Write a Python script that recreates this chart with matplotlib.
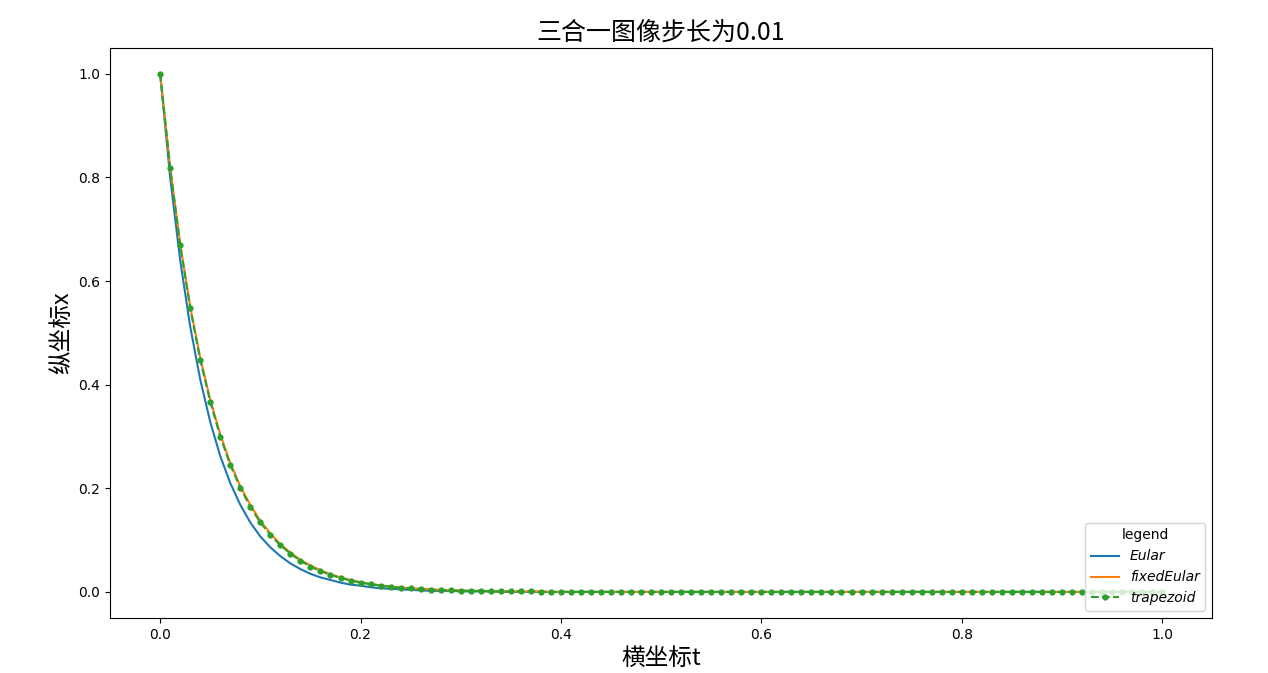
import numpy as np
import matplotlib.pyplot as plt

plt.rcParams['font.family'] = ['DejaVu Sans']
plt.rcParams['axes.unicode_minus'] = False
cjk = ['Noto Sans CJK SC', 'DejaVu Sans']

# time axis, step 0.01
t = np.round(np.arange(0, 101) * 0.01, 2)

# values
eular = [1.000, 0.800, 0.640, 0.512, 0.410, 0.328, 0.262, 0.210, 0.168, 0.134,
         0.107, 0.086, 0.069, 0.055, 0.044, 0.035, 0.028, 0.023, 0.018, 0.014,
         0.012, 0.009, 0.007, 0.006, 0.005, 0.004, 0.003, 0.002, 0.002, 0.002,
         0.001, 0.001, 0.001, 0.001, 0.000, 0.000, 0.000, 0.000, 0.000, 0.000,
         0.000, 0.000, 0.000, 0.000, 0.000, 0.000, 0.000, 0.000, 0.000, 0.000,
         0.000, 0.000, 0.000, 0.000, 0.000, 0.000, 0.000, 0.000, 0.000, 0.000,
         0.000, 0.000, 0.000, 0.000, 0.000, 0.000, 0.000, 0.000, 0.000, 0.000,
         0.000, 0.000, 0.000, 0.000, 0.000, 0.000, 0.000, 0.000, 0.000, 0.000,
         0.000, 0.000, 0.000, 0.000, 0.000, 0.000, 0.000, 0.000, 0.000, 0.000,
         0.000, 0.000, 0.000, 0.000, 0.000, 0.000, 0.000, 0.000, 0.000, 0.000,
         0.000]
fixed_eular = [1.000, 0.820, 0.672, 0.551, 0.452, 0.371, 0.304, 0.249, 0.204, 0.168,
               0.137, 0.113, 0.092, 0.076, 0.062, 0.051, 0.042, 0.034, 0.028, 0.023,
               0.019, 0.015, 0.013, 0.010, 0.009, 0.007, 0.006, 0.005, 0.004, 0.003,
               0.003, 0.002, 0.002, 0.001, 0.001, 0.001, 0.001, 0.001, 0.001, 0.000,
               0.000, 0.000, 0.000, 0.000, 0.000, 0.000, 0.000, 0.000, 0.000, 0.000,
               0.000, 0.000, 0.000, 0.000, 0.000, 0.000, 0.000, 0.000, 0.000, 0.000,
               0.000, 0.000, 0.000, 0.000, 0.000, 0.000, 0.000, 0.000, 0.000, 0.000,
               0.000, 0.000, 0.000, 0.000, 0.000, 0.000, 0.000, 0.000, 0.000, 0.000,
               0.000, 0.000, 0.000, 0.000, 0.000, 0.000, 0.000, 0.000, 0.000, 0.000,
               0.000, 0.000, 0.000, 0.000, 0.000, 0.000, 0.000, 0.000, 0.000, 0.000,
               0.000]
trapezoid = [1.000, 0.818, 0.669, 0.548, 0.448, 0.367, 0.300, 0.245, 0.201, 0.164,
             0.134, 0.110, 0.090, 0.074, 0.060, 0.049, 0.040, 0.033, 0.027, 0.022,
             0.018, 0.015, 0.012, 0.010, 0.008, 0.007, 0.005, 0.004, 0.004, 0.003,
             0.002, 0.002, 0.002, 0.001, 0.001, 0.001, 0.001, 0.001, 0.000, 0.000,
             0.000, 0.000, 0.000, 0.000, 0.000, 0.000, 0.000, 0.000, 0.000, 0.000,
             0.000, 0.000, 0.000, 0.000, 0.000, 0.000, 0.000, 0.000, 0.000, 0.000,
             0.000, 0.000, 0.000, 0.000, 0.000, 0.000, 0.000, 0.000, 0.000, 0.000,
             0.000, 0.000, 0.000, 0.000, 0.000, 0.000, 0.000, 0.000, 0.000, 0.000,
             0.000, 0.000, 0.000, 0.000, 0.000, 0.000, 0.000, 0.000, 0.000, 0.000,
             0.000, 0.000, 0.000, 0.000, 0.000, 0.000, 0.000, 0.000, 0.000, 0.000,
             0.000]

fig = plt.figure(figsize=(12.68, 6.73), dpi=100)
ax = fig.add_axes([0.0868, 0.082, 0.8692, 0.8467])

ax.plot(t, eular, label='Eular')
ax.plot(t, fixed_eular, label='fixedEular')
ax.plot(t, trapezoid, '.--', markersize=7, label='trapezoid')

ax.set_title('三合一图像步长为0.01', fontsize=18, family=cjk)
ax.set_xlabel('横坐标t', fontsize=17, family=cjk)
ax.set_ylabel('纵坐标x', fontsize=17, family=cjk)

leg = ax.legend(title='legend', loc='lower right', prop={'style': 'italic'})

fig.savefig('out.png', dpi=100)
